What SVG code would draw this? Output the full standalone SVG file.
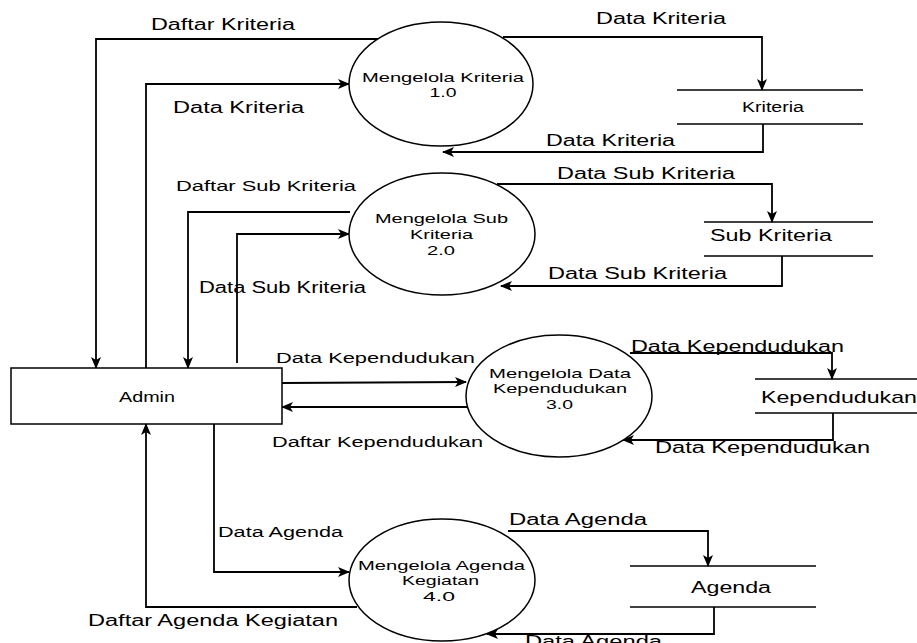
<svg xmlns="http://www.w3.org/2000/svg" width="917" height="643" viewBox="0 0 917 643">
<defs>
<style>
text{font-family:"Liberation Sans",Arial,sans-serif;fill:#000;text-anchor:middle}
.lbl{font-size:16px}
.big{font-size:17px}
.pt{font-size:14px}
.ct{font-size:13px}
.proc{fill:#fff;stroke:#000;stroke-width:1.5}
.store{stroke:#000;stroke-width:1.5;fill:none}
.flow{fill:none;stroke:#000;stroke-width:1.8;marker-end:url(#arr)}
</style>
<marker id="arr" viewBox="0 0 12 10" markerWidth="12" markerHeight="10" refX="11" refY="5" orient="auto" markerUnits="userSpaceOnUse">
<path d="M0,0 L12,5 L0,10 L3,5 Z" fill="#000"/>
</marker>
</defs>

<g id="connectors">
<polyline class="flow" points="380,39 96,39 96,368"/>
<polyline class="flow" points="146,368 146,84 349,84"/>
<polyline class="flow" points="503,37 762,37 762,90"/>
<polyline class="flow" points="763,124 763,152 443,152"/>
<polyline class="flow" points="350,212 188,212 188,368"/>
<polyline class="flow" points="237,363 237,234 349,234"/>
<polyline class="flow" points="497,184 772,184 772,222"/>
<polyline class="flow" points="782,256 782,286 501,286"/>
<polyline class="flow" points="282,383 466,382"/>
<polyline class="flow" points="467,407 282,407"/>
<polyline class="flow" points="630,353 832,353 832,379"/>
<polyline class="flow" points="833,413 833,440 623,440"/>
<polyline class="flow" points="214,424 214,572 349,572"/>
<polyline class="flow" points="357,607 146,607 146,424"/>
<polyline class="flow" points="508,531 708,531 708,566"/>
<polyline class="flow" points="714,607 714,634 487,634"/>
</g>

<g id="labels">
<text class="lbl" x="223" y="30" textLength="144" lengthAdjust="spacingAndGlyphs">Daftar Kriteria</text>
<text class="lbl" x="238.5" y="113" textLength="131" lengthAdjust="spacingAndGlyphs">Data Kriteria</text>
<text class="lbl" x="661" y="24" textLength="130" lengthAdjust="spacingAndGlyphs">Data Kriteria</text>
<text class="lbl" x="610.5" y="146" textLength="129" lengthAdjust="spacingAndGlyphs">Data Kriteria</text>
<text class="pt" x="266" y="191" textLength="180" lengthAdjust="spacingAndGlyphs">Daftar Sub Kriteria</text>
<text class="lbl" x="282.5" y="293" textLength="167" lengthAdjust="spacingAndGlyphs">Data Sub Kriteria</text>
<text class="lbl" x="646" y="179" textLength="178" lengthAdjust="spacingAndGlyphs">Data Sub Kriteria</text>
<text class="lbl" x="637.5" y="279" textLength="179" lengthAdjust="spacingAndGlyphs">Data Sub Kriteria</text>
<text class="pt" x="375.5" y="363" textLength="199" lengthAdjust="spacingAndGlyphs">Data Kependudukan</text>
<text class="pt" x="377.5" y="447" textLength="211" lengthAdjust="spacingAndGlyphs">Daftar Kependudukan</text>
<text class="lbl" x="737.5" y="352" textLength="213" lengthAdjust="spacingAndGlyphs">Data Kependudukan</text>
<text class="lbl" x="762.5" y="453" textLength="215" lengthAdjust="spacingAndGlyphs">Data Kependudukan</text>
<text class="pt" x="280.5" y="537" textLength="125" lengthAdjust="spacingAndGlyphs">Data Agenda</text>
<text class="lbl" x="213" y="626" textLength="250" lengthAdjust="spacingAndGlyphs">Daftar Agenda Kegiatan</text>
<text class="lbl" x="578" y="525" textLength="138" lengthAdjust="spacingAndGlyphs">Data Agenda</text>
<text class="lbl" x="593.5" y="647" textLength="137" lengthAdjust="spacingAndGlyphs">Data Agenda</text>
</g>

<g id="admin">
<rect x="11" y="368" width="271" height="56" fill="#fff" stroke="#000" stroke-width="1.5"/>
<text class="pt" x="147" y="402" textLength="56" lengthAdjust="spacingAndGlyphs">Admin</text>
</g>

<g id="p1">
<ellipse class="proc" cx="441" cy="84" rx="92" ry="62"/>
<text class="ct" x="443" y="82" textLength="162" lengthAdjust="spacingAndGlyphs">Mengelola Kriteria</text>
<text class="ct" x="443" y="97" textLength="27" lengthAdjust="spacingAndGlyphs">1.0</text>
</g>

<g id="p2">
<ellipse class="proc" cx="442" cy="234" rx="93" ry="61"/>
<text class="ct" x="441.5" y="223" textLength="133" lengthAdjust="spacingAndGlyphs">Mengelola Sub</text>
<text class="ct" x="441.5" y="239" textLength="63" lengthAdjust="spacingAndGlyphs">Kriteria</text>
<text class="ct" x="441" y="255" textLength="28" lengthAdjust="spacingAndGlyphs">2.0</text>
</g>

<g id="p3">
<ellipse class="proc" cx="559" cy="396" rx="93" ry="61"/>
<text class="ct" x="560" y="378" textLength="142" lengthAdjust="spacingAndGlyphs">Mengelola Data</text>
<text class="ct" x="560" y="393" textLength="134" lengthAdjust="spacingAndGlyphs">Kependudukan</text>
<text class="ct" x="559.5" y="409" textLength="27" lengthAdjust="spacingAndGlyphs">3.0</text>
</g>

<g id="p4">
<ellipse class="proc" cx="442" cy="580" rx="93" ry="61"/>
<text class="ct" x="441.5" y="570" textLength="167" lengthAdjust="spacingAndGlyphs">Mengelola Agenda</text>
<text class="ct" x="440.5" y="585" textLength="77" lengthAdjust="spacingAndGlyphs">Kegiatan</text>
<text class="ct" x="439" y="601" textLength="32" lengthAdjust="spacingAndGlyphs">4.0</text>
</g>

<g id="ds-kriteria">
<line class="store" x1="677" y1="90" x2="863" y2="90"/>
<line class="store" x1="677" y1="124" x2="863" y2="124"/>
<text class="pt" x="773" y="112" textLength="62" lengthAdjust="spacingAndGlyphs">Kriteria</text>
</g>

<g id="ds-subkriteria">
<line class="store" x1="704" y1="222" x2="873" y2="222"/>
<line class="store" x1="704" y1="256" x2="873" y2="256"/>
<text class="lbl" x="771" y="241" textLength="122" lengthAdjust="spacingAndGlyphs">Sub Kriteria</text>
</g>

<g id="ds-kependudukan">
<line class="store" x1="755" y1="379" x2="917" y2="379"/>
<line class="store" x1="755" y1="413" x2="917" y2="413"/>
<text class="big" x="839" y="403" textLength="156" lengthAdjust="spacingAndGlyphs">Kependudukan</text>
</g>

<g id="ds-agenda">
<line class="store" x1="630" y1="566" x2="816" y2="566"/>
<line class="store" x1="630" y1="607" x2="816" y2="607"/>
<text class="lbl" x="731" y="593" textLength="80" lengthAdjust="spacingAndGlyphs">Agenda</text>
</g>
</svg>
